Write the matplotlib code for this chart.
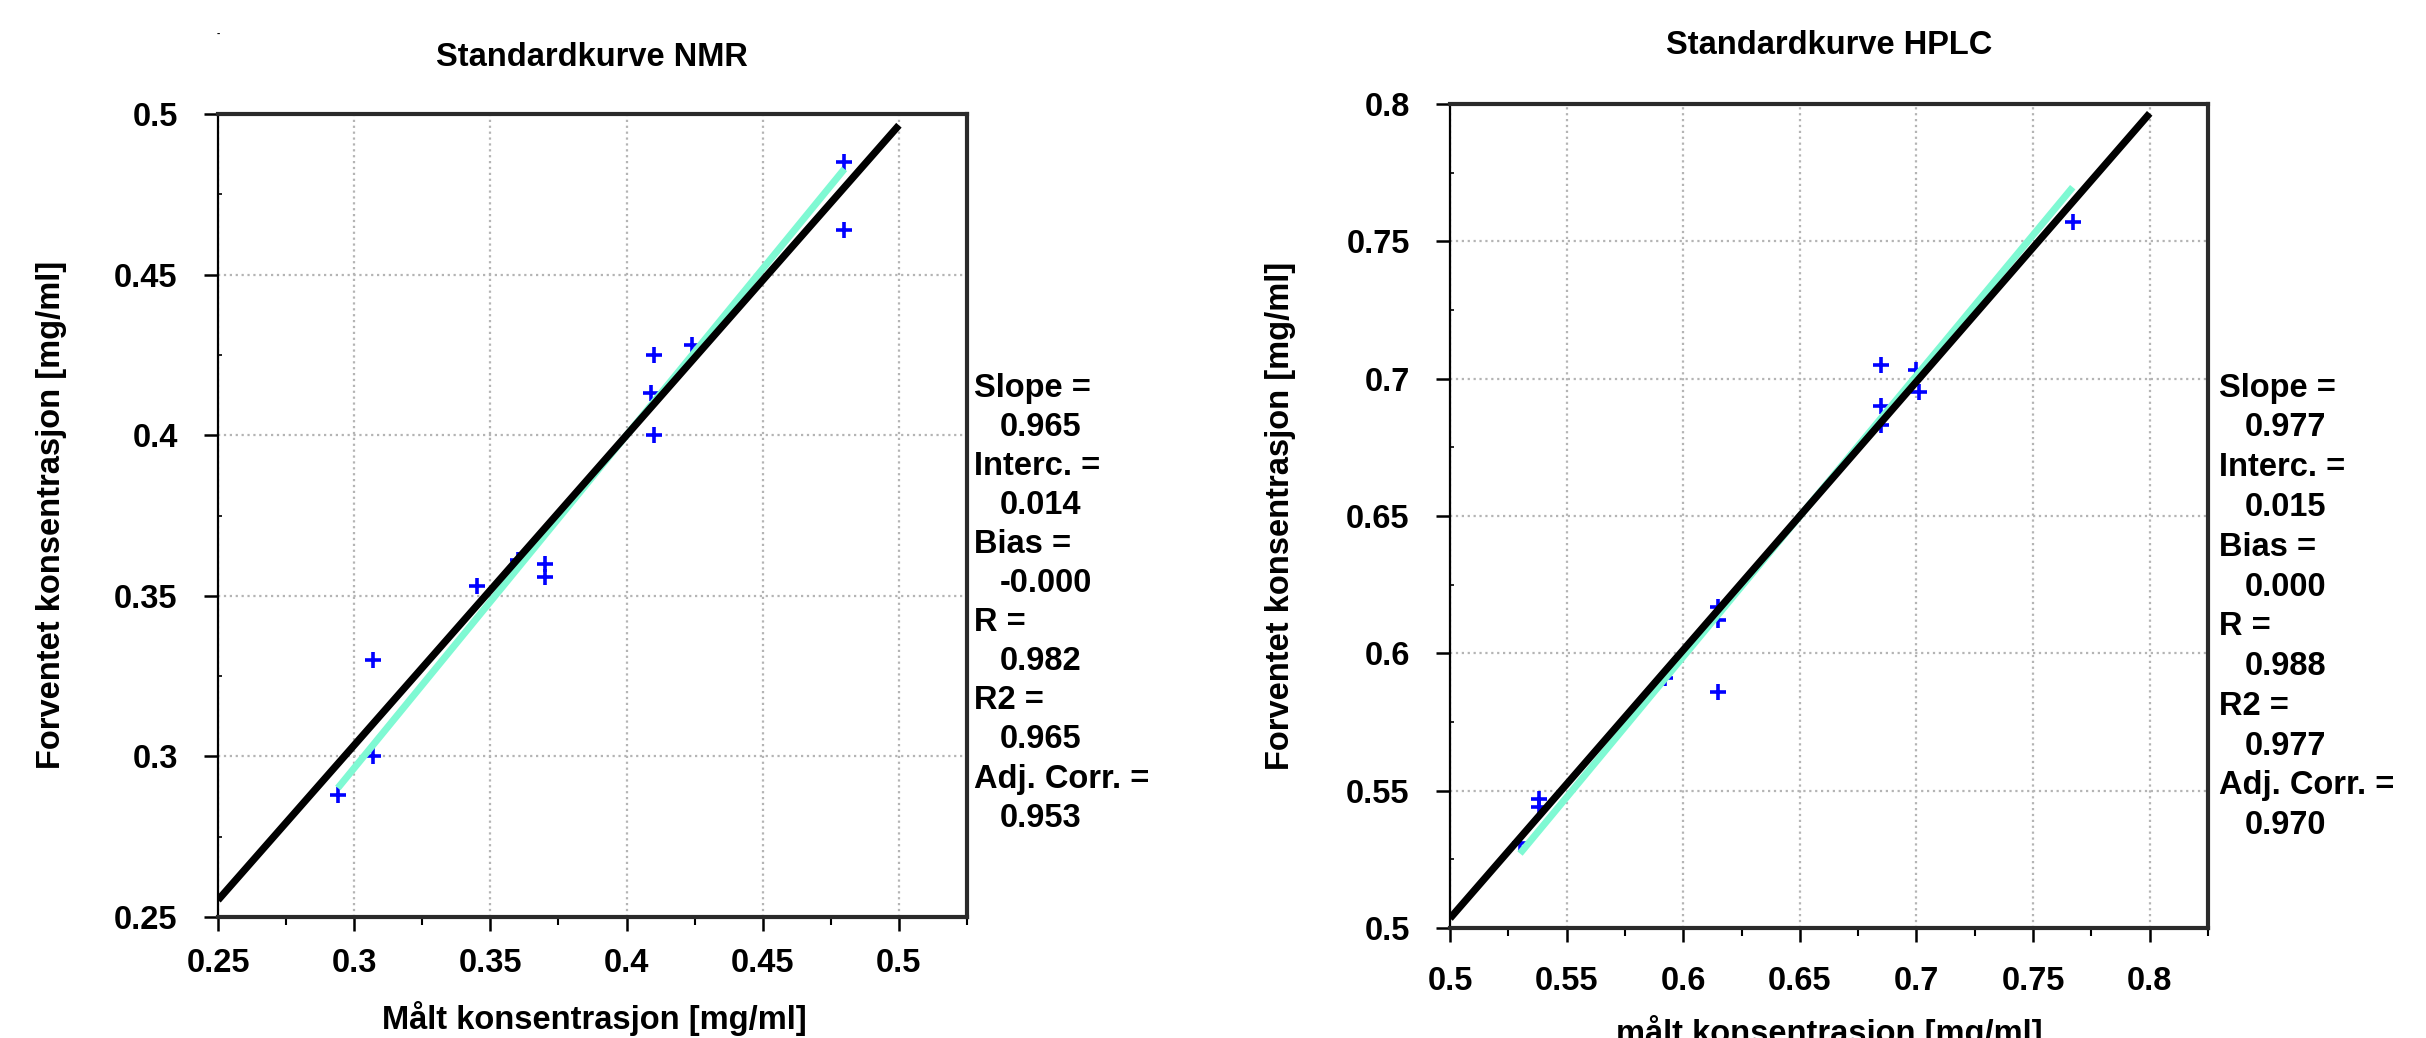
import matplotlib
matplotlib.use("Agg")
import matplotlib.pyplot as plt
from matplotlib.ticker import MultipleLocator, AutoMinorLocator, FuncFormatter
import numpy as np

plt.rcParams['font.family'] = ['Liberation Sans', 'DejaVu Sans']
plt.rcParams['font.weight'] = 'bold'

# ---------------- data ----------------
nmr_title = "Standardkurve NMR"
nmr_xlabel = "Målt konsentrasjon [mg/ml]"
nmr_ylabel = "Forventet konsentrasjon [mg/ml]"
nmr_measured = [0.480, 0.480, 0.410, 0.424, 0.409, 0.410, 0.345, 0.360, 0.370, 0.370, 0.307, 0.307, 0.294]
nmr_expected = [0.485, 0.464, 0.425, 0.428, 0.413, 0.400, 0.353, 0.361, 0.360, 0.356, 0.330, 0.300, 0.288]
nmr_slope, nmr_interc = 0.965, 0.014
nmr_line_x = [0.25, 0.5]
nmr_stats = [("Slope =", "0.965"), ("Interc. =", "0.014"), ("Bias =", "-0.000"),
             ("R =", "0.982"), ("R2 =", "0.965"), ("Adj. Corr. =", "0.953")]
nmr_xlim = (0.25, 0.525)
nmr_ylim = (0.25, 0.5)

hplc_title = "Standardkurve HPLC"
hplc_xlabel = "målt konsentrasjon [mg/ml]"
hplc_ylabel = "Forventet konsentrasjon [mg/ml]"
hplc_measured = [0.767, 0.685, 0.685, 0.685, 0.700, 0.701, 0.615, 0.615, 0.615, 0.592, 0.538, 0.538, 0.530]
hplc_expected = [0.757, 0.705, 0.690, 0.683, 0.703, 0.695, 0.617, 0.612, 0.586, 0.591, 0.547, 0.544, 0.531]
hplc_slope, hplc_interc = 0.977, 0.015
hplc_line_x = [0.5, 0.8]
hplc_stats = [("Slope =", "0.977"), ("Interc. =", "0.015"), ("Bias =", "0.000"),
              ("R =", "0.988"), ("R2 =", "0.977"), ("Adj. Corr. =", "0.970")]
hplc_xlim = (0.5, 0.825)
hplc_ylim = (0.5, 0.8)

# ---------------- figure ----------------
W, H = 2426, 1038
fig = plt.figure(figsize=(W / 100, H / 100), dpi=100)
FS = 23.5


def fx(px):
    return px / W


def fy(py):
    return 1 - py / H


def panel(box, meas, exp_, slope, interc, line_x, xlim, ylim, xpad):
    l, t, r, b = box
    ax = fig.add_axes([fx(l), fy(b), fx(r) - fx(l), fy(t) - fy(b)])
    ax.set_xlim(*xlim)
    ax.set_ylim(*ylim)
    ax.xaxis.set_major_locator(MultipleLocator(0.05))
    ax.yaxis.set_major_locator(MultipleLocator(0.05))
    ax.xaxis.set_minor_locator(AutoMinorLocator(2))
    ax.yaxis.set_minor_locator(AutoMinorLocator(2))
    fmt = FuncFormatter(lambda v, p: "{:g}".format(round(v, 3)))
    ax.xaxis.set_major_formatter(fmt)
    ax.yaxis.set_major_formatter(fmt)
    ax.tick_params(axis='both', which='major', direction='out', length=10, width=1.8,
                   labelsize=FS)
    ax.tick_params(axis='x', which='major', pad=xpad)
    ax.tick_params(axis='y', which='major', pad=19)
    ax.tick_params(axis='x', which='minor', direction='out', length=6, width=1.5)
    ax.tick_params(axis='y', which='minor', direction='in', length=3, width=1.2)
    for lab in ax.get_xticklabels() + ax.get_yticklabels():
        lab.set_fontweight('bold')
    ax.grid(True, which='major', linestyle=':', color='#b4b4b4', linewidth=1.6)
    ax.set_axisbelow(True)
    for side in ('top', 'right', 'bottom'):
        ax.spines[side].set_linewidth(3.0)
        ax.spines[side].set_color('#2a2a2a')
    ax.spines['left'].set_linewidth(1.6)
    ax.spines['left'].set_color('black')

    ax.plot(meas, exp_, linestyle='none', marker='+', markersize=12,
            markeredgewidth=2.6, color='#0000ff', zorder=2)
    xs = np.array([min(meas), max(meas)])
    ax.plot(xs, (xs - interc) / slope, color='#7ff9d3', linewidth=5,
            solid_capstyle='butt', zorder=3)
    xb = np.array(line_x)
    ax.plot(xb, slope * xb + interc, color='black', linewidth=5.2,
            solid_capstyle='butt', zorder=4)
    return ax


ax1 = panel((218, 114, 967, 917), nmr_measured, nmr_expected, nmr_slope, nmr_interc,
            nmr_line_x, nmr_xlim, nmr_ylim, xpad=12)
ax2 = panel((1450, 104, 2208, 928), hplc_measured, hplc_expected, hplc_slope, hplc_interc,
            hplc_line_x, hplc_xlim, hplc_ylim, xpad=17)

# titles and labels
fig.text(fx(592), fy(58), nmr_title, ha='center', va='center', fontsize=FS, fontweight='bold')
fig.text(fx(1829), fy(46), hplc_title, ha='center', va='center', fontsize=FS, fontweight='bold')
fig.text(fx(594), fy(1019), nmr_xlabel, ha='center', va='center', fontsize=FS, fontweight='bold')
fig.text(fx(1829), fy(1033), hplc_xlabel, ha='center', va='center', fontsize=FS, fontweight='bold')
fig.text(fx(52), fy(515), nmr_ylabel, ha='center', va='center', rotation=90,
         fontsize=FS, fontweight='bold')
fig.text(fx(1281), fy(516), hplc_ylabel, ha='center', va='center', rotation=90,
         fontsize=FS, fontweight='bold')
fig.text(fx(218), fy(34), "-", ha='center', va='center', fontsize=7)


def stats(x0, xv, y0, step, items):
    y = y0
    for lab, val in items:
        fig.text(fx(x0), fy(y), lab, ha='left', va='center', fontsize=FS, fontweight='bold')
        y += step
        fig.text(fx(xv), fy(y), val, ha='left', va='center', fontsize=FS, fontweight='bold')
        y += step


stats(974, 1000, 388, 39.1, nmr_stats)
stats(2219, 2245, 388, 39.8, hplc_stats)

fig.savefig("out.png", dpi=100)
